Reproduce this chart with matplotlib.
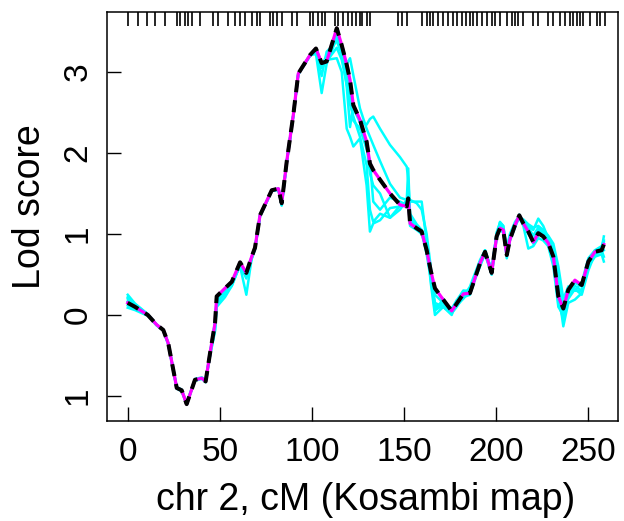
import matplotlib
matplotlib.use("Agg")
from matplotlib import pyplot as plt
from matplotlib import transforms

plt.rcParams['font.family'] = ['Liberation Sans', 'DejaVu Sans']

# positions along chr 2 (cM)
pos = [0, 4, 10.9, 15.7, 19.3, 22, 26.6, 29.3, 32, 36.5,
       40.2, 42.3, 44.7, 47.4, 48.3, 52.8, 56.5, 61, 64.4, 67.3,
       69.1, 71.8, 78.2, 81.8, 83.6, 86.3, 89.9, 92.6, 94.5, 99,
       102.2, 105.3, 108, 113.5, 116.2, 118.9, 120.7, 122.5, 126.1, 129.7,
       131.5, 133.3, 137, 142.4, 147.8, 151.5, 152.3, 153.3, 156.9, 159.6,
       162.3, 164.5, 166.8, 171.3, 175.9, 178.6, 182.2, 185.8, 191.3, 194,
       197.6, 200.3, 202.1, 203.9, 205.8, 207.5, 210.3, 212.6, 214.8, 217.5,
       220.2, 222.9, 225.6, 228.3, 231.1, 233.8, 236.5, 239.2, 242.8, 246.5,
       250.1, 253.7, 257.3, 258.5]

# main lod curve
lod_main = [0.15, 0.10, 0.00, -0.12, -0.185, -0.35, -0.90, -0.93, -1.10, -0.80,
            -0.78, -0.82, -0.47, -0.10, 0.23, 0.33, 0.41, 0.65, 0.52, 0.72,
            0.83, 1.23, 1.54, 1.56, 1.38, 1.89, 2.47, 2.98, 3.05, 3.21,
            3.29, 3.11, 3.13, 3.54, 3.33, 3.09, 2.90, 2.59, 2.41, 2.14,
            1.87, 1.79, 1.67, 1.50, 1.36, 1.34, 1.44, 1.13, 1.07, 1.03,
            0.80, 0.55, 0.33, 0.19, 0.05, 0.14, 0.26, 0.27, 0.64, 0.78,
            0.52, 0.97, 1.07, 1.05, 0.74, 0.93, 1.11, 1.23, 1.13, 1.03,
            0.90, 1.01, 0.97, 0.89, 0.72, 0.23, 0.08, 0.31, 0.43, 0.37,
            0.66, 0.78, 0.80, 0.87]

# individual imputations (cyan)
imp1 = [0.25, 0.14, 0.01, -0.12, -0.19, -0.36, -0.90, -0.93, -1.09, -0.80,
        -0.78, -0.82, -0.47, -0.15, 0.12, 0.28, 0.40, 0.60, 0.25, 0.70,
        0.82, 1.22, 1.54, 1.55, 1.35, 1.88, 2.46, 2.97, 3.05, 3.21,
        3.22, 2.74, 3.10, 3.42, 3.30, 3.10, 3.17, 2.96, 2.55, 2.30,
        2.20, 2.10, 1.90, 1.62, 1.45, 1.42, 1.81, 1.20, 1.08, 1.05,
        0.75, 0.45, 0.06, 0.12, 0.05, 0.15, 0.30, 0.28, 0.66, 0.80,
        0.55, 1.00, 1.12, 1.08, 0.82, 1.00, 1.15, 1.22, 1.15, 1.10,
        1.05, 1.19, 1.10, 0.95, 0.80, 0.30, -0.14, 0.15, 0.19, 0.27,
        0.62, 0.75, 0.82, 0.97]
imp2 = [0.09, 0.06, -0.01, -0.13, -0.19, -0.36, -0.90, -0.94, -1.10, -0.80,
        -0.78, -0.82, -0.50, -0.20, 0.10, 0.22, 0.36, 0.62, 0.48, 0.70,
        0.82, 1.22, 1.53, 1.55, 1.36, 1.88, 2.47, 2.98, 3.04, 3.20,
        3.26, 3.05, 3.15, 3.17, 3.00, 2.30, 2.20, 2.08, 2.18, 1.60,
        1.03, 1.13, 1.17, 1.32, 1.34, 1.40, 1.42, 1.40, 1.40, 1.40,
        0.90, 0.40, 0.00, 0.10, 0.02, 0.10, 0.22, 0.25, 0.62, 0.75,
        0.50, 0.95, 1.15, 1.10, 0.78, 0.95, 1.10, 1.20, 1.10, 0.82,
        0.85, 0.95, 0.92, 0.85, 0.60, 0.10, 0.00, 0.35, 0.30, 0.30,
        0.60, 0.72, 0.75, 0.66]
imp3 = [0.20, 0.12, 0.00, -0.12, -0.19, -0.35, -0.90, -0.93, -1.10, -0.80,
        -0.78, -0.82, -0.47, -0.12, 0.18, 0.30, 0.38, 0.63, 0.50, 0.71,
        0.83, 1.23, 1.54, 1.56, 1.38, 1.89, 2.47, 2.98, 3.05, 3.21,
        3.28, 3.08, 3.20, 3.45, 3.25, 2.82, 2.32, 2.60, 2.40, 2.35,
        2.42, 2.45, 2.30, 2.10, 1.95, 1.83, 1.67, 1.25, 1.12, 1.05,
        0.80, 0.50, 0.10, 0.15, 0.08, 0.18, 0.22, 0.35, 0.68, 0.80,
        0.55, 1.00, 1.10, 1.05, 0.70, 0.92, 1.08, 1.22, 1.12, 1.00,
        0.92, 1.05, 1.00, 0.90, 0.78, 0.45, 0.05, 0.20, 0.32, 0.25,
        0.55, 0.76, 0.78, 0.80]
imp4 = [0.17, 0.10, 0.00, -0.12, -0.18, -0.34, -0.89, -0.92, -1.09, -0.79,
        -0.77, -0.81, -0.46, -0.10, 0.20, 0.32, 0.40, 0.64, 0.51, 0.72,
        0.83, 1.23, 1.54, 1.56, 1.38, 1.89, 2.47, 2.98, 3.05, 3.21,
        3.29, 3.11, 3.13, 3.30, 3.15, 2.85, 2.60, 2.45, 2.20, 1.85,
        1.30, 1.15, 1.25, 1.20, 1.35, 1.38, 1.40, 1.42, 1.38, 1.30,
        1.00, 0.60, 0.05, 0.20, 0.05, 0.12, 0.20, 0.30, 0.60, 0.76,
        0.50, 0.95, 1.05, 1.02, 0.76, 0.94, 1.12, 1.20, 1.18, 1.12,
        1.08, 1.10, 1.05, 0.98, 0.88, 0.60, 0.20, 0.35, 0.30, 0.40,
        0.70, 0.80, 0.85, 0.92]
imp5 = [0.12, 0.08, 0.00, -0.12, -0.19, -0.35, -0.90, -0.93, -1.10, -0.80,
        -0.78, -0.82, -0.48, -0.08, 0.22, 0.32, 0.40, 0.64, 0.50, 0.71,
        0.82, 1.22, 1.53, 1.55, 1.37, 1.88, 2.46, 2.97, 3.05, 3.20,
        3.27, 3.10, 3.12, 3.50, 3.30, 3.05, 2.88, 2.55, 2.38, 2.10,
        1.75, 1.60, 1.50, 1.20, 1.30, 1.42, 1.38, 1.10, 1.05, 1.00,
        0.78, 0.50, 0.25, 0.15, 0.02, 0.15, 0.28, 0.26, 0.66, 0.78,
        0.52, 0.98, 1.09, 1.06, 0.74, 0.92, 1.10, 1.24, 1.12, 1.02,
        0.88, 1.00, 0.98, 0.90, 0.74, 0.15, -0.05, 0.25, 0.40, 0.35,
        0.64, 0.80, 0.78, 0.90]
imp6 = [0.22, 0.13, 0.01, -0.12, -0.19, -0.36, -0.91, -0.94, -1.10, -0.81,
        -0.79, -0.83, -0.50, -0.18, 0.15, 0.26, 0.36, 0.62, 0.45, 0.69,
        0.81, 1.22, 1.53, 1.55, 1.36, 1.88, 2.46, 2.97, 3.04, 3.20,
        3.25, 2.95, 3.25, 3.38, 3.22, 2.95, 2.75, 2.40, 2.30, 2.05,
        1.90, 1.40, 1.30, 1.45, 1.40, 1.36, 1.55, 1.15, 1.06, 1.02,
        0.85, 0.55, 0.15, 0.10, 0.00, 0.18, 0.30, 0.30, 0.62, 0.79,
        0.55, 1.02, 1.14, 1.10, 0.80, 0.97, 1.13, 1.23, 1.16, 1.08,
        0.98, 1.08, 1.02, 0.95, 0.82, 0.38, 0.10, 0.25, 0.36, 0.30,
        0.60, 0.74, 0.80, 0.72]

# marker positions (rug at the top)
markers = [0, 5.4, 10.3, 14.8, 20.3, 26.6, 28.4, 31.1, 32.9, 35.1,
           39.3, 46.5, 49.2, 54.6, 58.3, 61, 63.7, 67.3, 70, 71.8,
           77.3, 79, 80.9, 83.6, 89, 91.7, 99, 100.8, 103.1, 105.3,
           107.1, 112.5, 114.3, 117, 119.8, 121.6, 123.8, 126.1, 127, 130.1,
           131.3, 146.9, 148.7, 151.5, 159.6, 162.3, 164.1, 165.9, 168.6, 171.3,
           174.1, 176.8, 178.6, 181.3, 183.7, 185.8, 187.6, 189.8, 192.2, 194.9,
           197.6, 199.4, 202.1, 205.8, 208.5, 210.3, 212.1, 214.8, 220.2, 222.9,
           228.3, 231.1, 234.7, 237.4, 240.1, 241.9, 243.8, 245.6, 247.3, 251,
           254.6, 256.4, 259.1]

xticks = [0, 50, 100, 150, 200, 250]
yticks = [-1, 0, 1, 2, 3]
ytick_labels = ['1', '0', '1', '2', '3']

fig = plt.figure(figsize=(6.24, 5.21), dpi=100)
ax = fig.add_axes([0.172, 0.1925, 0.8184, 0.7839])

for imp in [imp1, imp2, imp3, imp4, imp5, imp6]:
    ax.plot(pos, imp, color='#00FFFF', lw=1.8, solid_joinstyle='round')
ax.plot(pos, lod_main, color='#FF00FF', lw=2.3, solid_joinstyle='round')
ax.plot(pos, lod_main, color='black', lw=2.9, dashes=(3, 2),
        dash_capstyle='butt', dash_joinstyle='round')

# rug of markers along the top
trans = transforms.blended_transform_factory(ax.transData, ax.transAxes)
ax.vlines(markers, 0.967, 1.0, transform=trans, color='black', lw=1.2)

ax.set_xlim(-11.08, 266.2)
ax.set_ylim(-1.305, 3.737)

ax.set_xticks(xticks)
ax.set_yticks(yticks)
ax.set_yticklabels(ytick_labels, rotation=90, va='center', ha='right')
ax.tick_params(direction='in', length=10, width=1.0, labelsize=24)
ax.tick_params(axis='x', pad=12)
ax.tick_params(axis='y', pad=10)
for s in ax.spines.values():
    s.set_linewidth(1.1)

ax.set_xlabel('chr 2, cM (Kosambi map)', fontsize=27)
ax.set_ylabel('Lod score', fontsize=27)
ax.xaxis.set_label_coords(0.5066, -0.151)
ax.yaxis.set_label_coords(-0.117, 0.525)

fig.savefig('out.png', dpi=100)
